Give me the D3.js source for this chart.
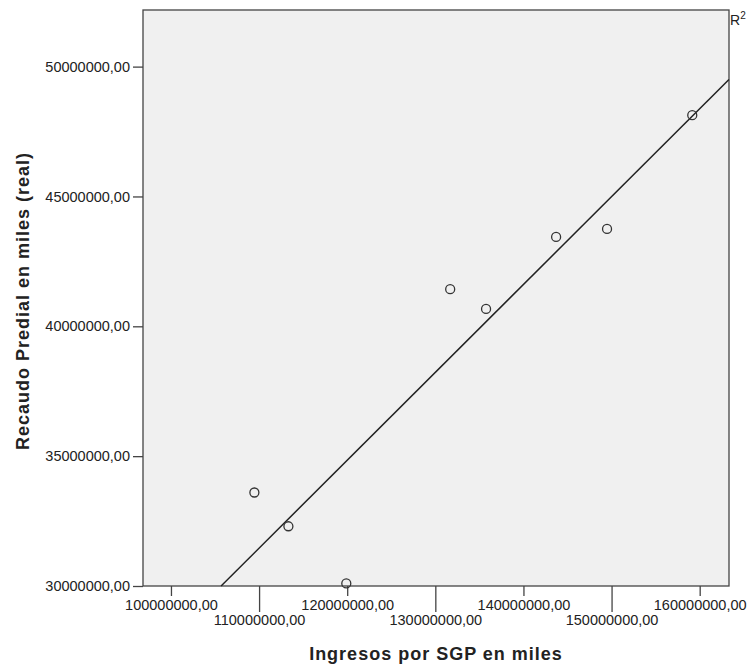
<!DOCTYPE html>
<html>
<head>
<meta charset="utf-8">
<script src="https://cdn.jsdelivr.net/npm/d3@7"></script>
<style>
  body { margin: 0; background: #fff; }
  text { font-family: "Liberation Sans", Arial, sans-serif; fill: #222; }
</style>
</head>
<body>
<div id="chart"></div>
<script>
// data (values in the original units)
var ingresos = [109410000, 113270000, 119840000, 131630000, 135700000, 143650000, 149430000, 159100000];
var recaudo = [33600000, 32300000, 30100000, 41430000, 40670000, 43440000, 43750000, 48130000];
var xTicks = [100000000, 110000000, 120000000, 130000000, 140000000, 150000000, 160000000];
var yTicks = [30000000, 35000000, 40000000, 45000000, 50000000];

let dimensions = {
    width: 749,
    height: 667,
    margin: { top: 10, right: 20, bottom: 81, left: 143 }
};
dimensions.boundedWidth = dimensions.width - dimensions.margin.left - dimensions.margin.right;
dimensions.boundedHeight = dimensions.height - dimensions.margin.top - dimensions.margin.bottom;

var svg = d3.select("#chart")
    .append("svg")
    .attr("width", dimensions.width)
    .attr("height", dimensions.height);

var g = svg.append("g")
    .attr("transform", `translate(${dimensions.margin.left}, ${dimensions.margin.top})`);

var xScale = d3.scaleLinear()
    .domain([96770000, 163270000])
    .range([0, dimensions.boundedWidth]);

var yScale = d3.scaleLinear()
    .domain([30000000, 52180000])
    .range([dimensions.boundedHeight, 0]);

// comma as decimal separator, like the original
var fmt = d3.formatLocale({ decimal: ",", thousands: "", grouping: [3], currency: ["", ""] }).format(".2f");

// plot background
g.append("rect")
    .attr("width", dimensions.boundedWidth)
    .attr("height", dimensions.boundedHeight)
    .attr("fill", "#f0f0f0")
    .attr("stroke", "#444")
    .attr("stroke-width", 1.3);

// x axis: alternating label rows
var xAxis = g.append("g")
    .attr("transform", `translate(0, ${dimensions.boundedHeight})`);
var xt = xAxis.selectAll("g.tick")
    .data(xTicks)
    .enter()
    .append("g")
    .attr("class", "tick")
    .attr("transform", d => `translate(${xScale(d)}, 0)`);
xt.append("line")
    .attr("y2", (d, i) => i % 2 ? 26 : 10)
    .attr("stroke", "#444")
    .attr("stroke-width", 1.3);
xt.append("text")
    .attr("y", (d, i) => i % 2 ? 39 : 24)
    .attr("text-anchor", "middle")
    .style("font-size", "14.5px")
    .text(d => fmt(d));

// y axis
var yAxis = g.append("g")
    .call(d3.axisLeft(yScale).tickValues(yTicks).tickFormat(fmt).tickSize(10).tickPadding(3));
yAxis.select(".domain").remove();
yAxis.selectAll("line").attr("stroke", "#444").attr("stroke-width", 1.3);
yAxis.selectAll("text")
    .style("font-size", "14.5px")
    .style("font-family", "Liberation Sans, Arial, sans-serif")
    .attr("fill", "#222");

// least squares fit line
var mx = d3.mean(ingresos), my = d3.mean(recaudo);
var sxy = d3.sum(ingresos, (d, i) => (d - mx) * (recaudo[i] - my));
var sxx = d3.sum(ingresos, d => (d - mx) * (d - mx));
var slope = sxy / sxx, intercept = my - slope * mx;
var x0 = (yScale.domain()[0] - intercept) / slope;
var x1 = xScale.domain()[1];
g.append("line")
    .attr("x1", xScale(x0))
    .attr("y1", yScale(slope * x0 + intercept))
    .attr("x2", xScale(x1))
    .attr("y2", yScale(slope * x1 + intercept))
    .attr("stroke", "#222")
    .attr("stroke-width", 1.5);

// points
g.selectAll("circle")
    .data(ingresos)
    .enter()
    .append("circle")
    .attr("cx", d => xScale(d))
    .attr("cy", (d, i) => yScale(recaudo[i]))
    .attr("r", 4.5)
    .attr("fill", "none")
    .attr("stroke", "#333")
    .attr("stroke-width", 1.3);

// R2 label (clipped at the edge like the original)
var r2 = svg.append("text")
    .attr("x", dimensions.margin.left + dimensions.boundedWidth + 1)
    .attr("y", 25)
    .style("font-size", "14px");
r2.append("tspan").text("R");
r2.append("tspan").attr("dy", -6).style("font-size", "10px").text("2");

// axis titles
svg.append("text")
    .attr("x", 436)
    .attr("y", 660)
    .attr("text-anchor", "middle")
    .style("font-size", "18px")
    .style("font-weight", "bold")
    .style("letter-spacing", "1px")
    .text("Ingresos por SGP en miles");

svg.append("text")
    .attr("transform", `translate(29, 301) rotate(-90)`)
    .attr("text-anchor", "middle")
    .style("font-size", "18px")
    .style("font-weight", "bold")
    .style("letter-spacing", "1px")
    .text("Recaudo Predial en miles (real)");
</script>
</body>
</html>
